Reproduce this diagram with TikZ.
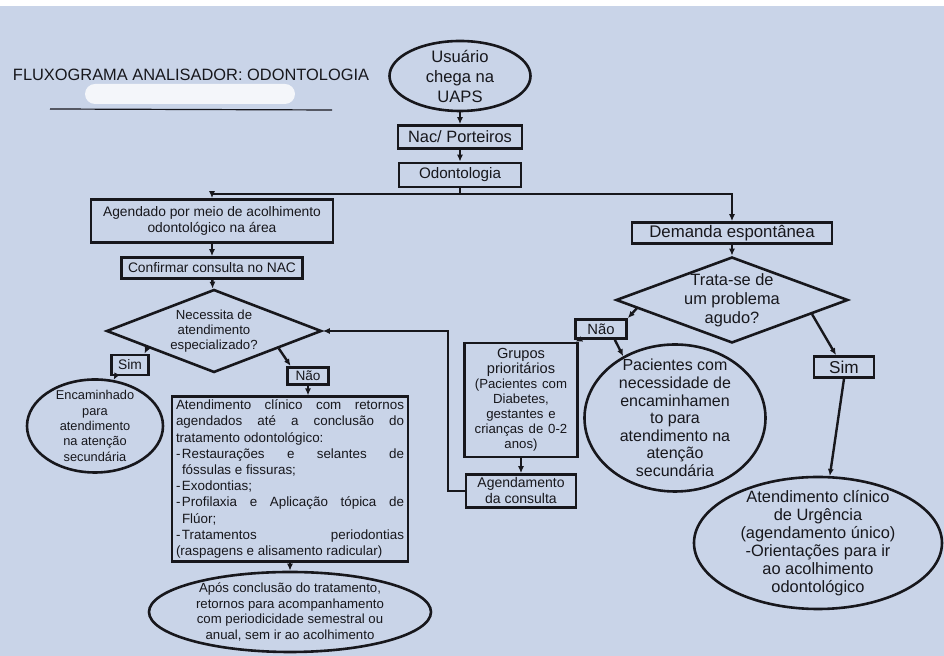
\documentclass[tikz,border=0pt]{standalone}
\usepackage{fontspec}
\setmainfont{Liberation Sans}
\usetikzlibrary{shapes.geometric,arrows.meta}
\definecolor{papel}{rgb}{0.79, 0.83, 0.91}
\definecolor{tinta}{rgb}{0.09, 0.09, 0.11}
\newcommand{\fonte}[2]{\fontsize{#1}{#2}\selectfont}
\newcommand{\dashitem}{\par\hangindent=3pt\hangafter=1\noindent\makebox[3pt][l]{-}}

\begin{document}
\begin{tikzpicture}
    [x=0.5pt,y=-0.5pt,
    >={Latex[length=3.5pt,width=3pt]},
    caixa/.style={draw=tinta,line width=1.3pt,rectangle,inner sep=0.5pt,text=tinta,align=center},
    term/.style={draw=tinta,line width=1.3pt,ellipse,inner sep=-9pt,text=tinta,align=center},
    decisao/.style={draw=tinta,line width=1.3pt,diamond,inner sep=-6pt,text=tinta,align=center},
    seta/.style={->,draw=tinta,line width=1.2pt}]

\useasboundingbox (0,0) rectangle (944,656);
\fill[papel] (0,0) rectangle (944,656);
\fill[white] (0,0) rectangle (944,6);

% titulo
\node[text=tinta,font=\fonte{8.2}{9.5}] (titulo) at (191,75) {FLUXOGRAMA ANALISADOR: ODONTOLOGIA};
\fill[white,opacity=0.8,rounded corners=5pt] (85,84) rectangle (295,104);
\draw[tinta,line width=0.6pt] (50,109) -- (332,110);

% entrada
\node[term,minimum width=70.5pt,minimum height=35pt,font=\fonte{8.3}{10}] (usuario) at (460,76) {Usuário\\chega na\\UAPS};
\node[caixa,minimum width=62pt,minimum height=11.5pt,font=\fonte{8.2}{9}] (nac) at (460,137) {Nac/ Porteiros};
\node[caixa,minimum width=61pt,minimum height=12pt,font=\fonte{7.6}{9}] (odonto) at (460,175) {Odontologia};

% ramo agendado
\node[caixa,minimum width=121pt,minimum height=21.5pt,font=\fonte{6.9}{7.8}] (agendado) at (212,221) {Agendado por meio de acolhimento\\odontológico na área};
\node[caixa,minimum width=90.5pt,minimum height=10.5pt,font=\fonte{6.9}{8}] (confirmar) at (212,268) {Confirmar consulta no NAC};
\node[decisao,shape aspect=2.59,minimum width=107.5pt,minimum height=41.5pt,font=\fonte{6.6}{7.6}] (necessita) at (214,331) {Necessita de\\atendimento\\especializado?};
\node[caixa,minimum width=18.5pt,minimum height=10pt,font=\fonte{6.9}{8}] (simL) at (130,365) {Sim};
\node[caixa,minimum width=20.5pt,minimum height=8.75pt,font=\fonte{6.8}{8}] (naoL) at (308,376) {Não};
\node[term,minimum width=68pt,minimum height=46.5pt,font=\fonte{6.4}{7.7}] (encaminhado) at (95,426) {Encaminhado\\para\\atendimento\\na atenção\\secundária};
\node[caixa,minimum width=118pt,minimum height=80pt,inner sep=1.5pt,text width=114pt,align=justify,font=\fonte{6.7}{8.1}] (clinico) at (290,479)
    {\parindent=0pt\hyphenpenalty=10000 Atendimento clínico com retornos\linebreak agendados até a conclusão do\linebreak tratamento odontológico:%
    \dashitem Restaurações e selantes de\linebreak fóssulas e fissuras;%
    \dashitem Exodontias;%
    \dashitem Profilaxia e Aplicação tópica de\linebreak Flúor;%
    \dashitem Tratamentos periodontias\linebreak \mbox{(raspagens e alisamento radicular)}};
\node[term,minimum width=141pt,minimum height=40pt,font=\fonte{6.6}{7.8}] (apos) at (290,612) {Após conclusão do tratamento,\\retornos para acompanhamento\\com periodicidade semestral ou\\anual, sem ir ao acolhimento};

% ramo demanda espontanea
\node[caixa,minimum width=100pt,minimum height=10.5pt,font=\fonte{8.4}{9}] (demanda) at (732,233) {Demanda espontânea};
\node[decisao,shape aspect=2.7,minimum width=116pt,minimum height=43pt,font=\fonte{8.2}{9.5}] (trata) at (732,300) {Trata-se de\\um problema\\agudo?};
\node[caixa,minimum width=25.5pt,minimum height=9.5pt,font=\fonte{7.4}{8}] (naoR) at (601,329) {Não};
\node[caixa,minimum width=30pt,minimum height=10.5pt,font=\fonte{8.6}{9}] (simR) at (844,367) {Sim};
\node[caixa,minimum width=56.5pt,minimum height=57pt,text width=55pt,font=\fonte{7.3}{7.5}] (grupos) at (521,400)
    {Grupos\\prioritários\\{\fonte{6.6}{7.5}(Pacientes com\\Diabetes,\\gestantes e\\crianças de 0-2\\anos)}};
\node[caixa,minimum width=55pt,minimum height=16.5pt,font=\fonte{7}{8}] (agendamento) at (521,491) {Agendamento\\da consulta};
\node[term,minimum width=90.5pt,minimum height=73.5pt,font=\fonte{8}{8.8}] (pacientes) at (675,418) {Pacientes com\\necessidade de\\encaminhamen\\to para\\atendimento na\\atenção\\secundária};
\node[term,minimum width=124pt,minimum height=66pt,font=\fonte{8.2}{9}] (urgencia) at (818,543) {Atendimento clínico\\de Urgência\\(agendamento único)\\-Orientações para ir\\ao acolhimento\\odontológico};

% ligacoes
\draw[seta] (usuario) -- (nac);
\draw[seta] (nac) -- (odonto);
\draw[tinta,line width=1.2pt] (odonto.south) -- ++(0,6) coordinate (bif);
\draw[seta] (bif) -| (agendado.north);
\draw[seta] (bif) -| (demanda.north);
\draw[seta] (agendado) -- (confirmar);
\draw[seta] (confirmar) -- (necessita);
\draw[seta] (necessita.194) -- (simL.38);
\draw[seta] (necessita.345) -- (naoL.150);
\draw[seta] (simL.218) -- (encaminhado.68);
\draw[seta] (naoL.south) -- (naoL.south |- clinico.north);
\draw[seta] (clinico) -- (apos);
\draw[seta] (demanda) -- (trata);
\draw[seta] (trata.185) -- (naoR.north east);
\draw[seta] (naoR.207) -- (grupos.47);
\draw[seta] (naoR.322) -- (pacientes.130);
\draw[seta] (trata.350) -- (simR.124);
\draw[seta] (simR.south) -- (urgencia.80);
\draw[seta] (grupos) -- (agendamento);
\draw[seta] (agendamento.west) -- ++(-17,0) |- (necessita.east);

  \end{tikzpicture}
\end{document}
